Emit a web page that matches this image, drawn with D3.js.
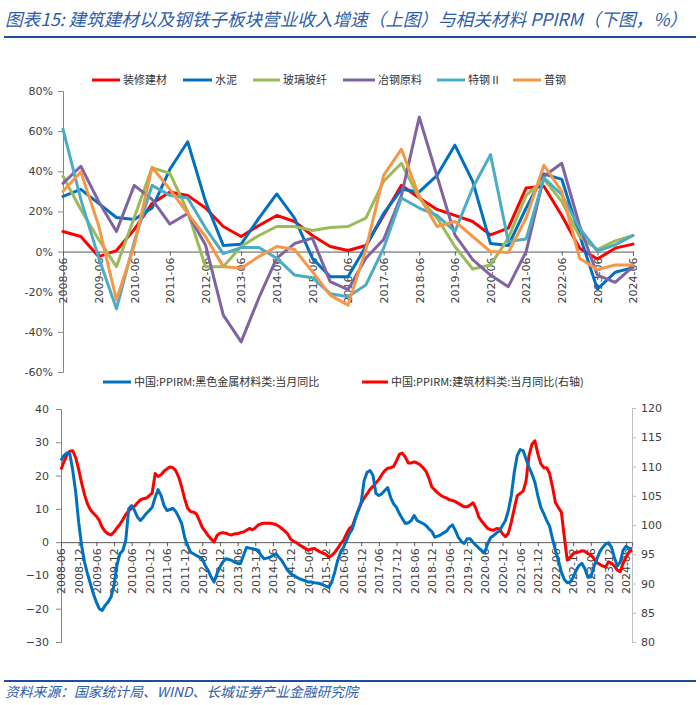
<!DOCTYPE html>
<html><head><meta charset="utf-8">
<script src="https://cdn.jsdelivr.net/npm/d3@7"></script>
<style>body{margin:0;background:#fff}svg{display:block}</style>
</head><body><svg id="c" width="700" height="705"></svg>
<script>
// ---------- DATA: top chart (semi-annual revenue growth, %) ----------
const topCats = ["2008-06","2008-12","2009-06","2009-12","2010-06","2010-12","2011-06","2011-12","2012-06","2012-12","2013-06","2013-12","2014-06","2014-12","2015-06","2015-12","2016-06","2016-12","2017-06","2017-12","2018-06","2018-12","2019-06","2019-12","2020-06","2020-12","2021-06","2021-12","2022-06","2022-12","2023-06","2023-12","2024-06"];
const topTickLabels = ["2008-06","2009-06","2010-06","2011-06","2012-06","2013-06","2014-06","2015-06","2016-06","2017-06","2018-06","2019-06","2020-06","2021-06","2022-06","2023-06","2024-06"];
const topYTicks = [-60,-40,-20,0,20,40,60,80];
const seriesNames = ["装修建材","水泥","玻璃玻纤","冶钢原料","特钢Ⅱ","普钢"];
const zhuangxiu = [10,7.5,-2.5,0.5,11,24,29.7,28,21.7,12.5,7.5,13,18,15,8,2.5,0.5,3,18,33,26.7,21,18,15,8.3,11.7,31.7,32.5,18,1.7,-3.7,1.7,3.7];
const shuini    = [27.5,31,24,17,16,21.7,41,54.7,25,3,3.7,16.7,28.7,16.7,-3.3,-12.5,-12.5,2.5,19,31,29.7,38,53,35,4,3,21.7,38.7,36,8.3,-18.7,-10.3,-8];
const boli      = [37.5,21,6,-7.5,17,41.7,39,20,-7.5,-7.5,2.5,8,12.5,12.5,10.5,12,12.5,16.7,35,44,26.7,16.7,2.5,-8.7,-6.7,6.7,28,36,25,7.5,1,5.3,8];
const yegang    = [34,42.5,25,10,33,26,13.7,19,3.3,-31.7,-45,-23,-3.3,4,6.7,-15,-19,-3.3,6,28,67,37.5,8.3,-4,-11.7,-17.5,0,37.5,44,13,-11.7,-15.3,-7.5];
const tegang    = [61,26,-3,-28.5,5,33,28,26.7,11.7,-1,2,2,-3.3,-11.7,-13,-21,-22.5,-16.7,1.7,26.7,21.7,18,10,31.7,48.3,5,6.3,36.7,28.3,11.7,0.3,3.3,8];
const pugang    = [30,39.7,13,-24,3,42,31,19,7.5,-7.5,-8.3,-2.5,2.5,1,-10,-21.7,-26.7,1,38,51,27.5,12.5,15,7.5,0,-0.5,16.7,43,30,-3.3,-9,-6.7,-6.7];
const topColors = ["#FF0000","#0070C0","#9BBB59","#8064A2","#4BACC6","#F79646"];

// ---------- DATA: bottom chart (monthly PPIRM yoy, 2008-06 .. 2024-08) ----------
const botTickLabels = ["2008-06","2008-12","2009-06","2009-12","2010-06","2010-12","2011-06","2011-12","2012-06","2012-12","2013-06","2013-12","2014-06","2014-12","2015-06","2015-12","2016-06","2016-12","2017-06","2017-12","2018-06","2018-12","2019-06","2019-12","2020-06","2020-12","2021-06","2021-12","2022-06","2022-12","2023-06","2023-12","2024-06"];
const leftTicks = [-30,-20,-10,0,10,20,30,40];
const rightTicks = [80,85,90,95,100,105,110,115,120];
const botNames = ["中国:PPIRM:黑色金属材料类:当月同比","中国:PPIRM:建筑材料类:当月同比(右轴)"];
const ferrous = [
 24.5,26,26.8,26.5,21.5,15,6,-1,-6,-9.5,
 -12.5,-15.5,-18,-20,-20.5,-19,-18,-16.5,-13,-7,
 -3.5,-2.5,0.5,10,11,9.5,7.5,6.5,7.5,8.6,
 9.5,10.5,13.5,15.8,14,11,9.5,9.8,10.2,9.2,
 7.5,5.6,1.5,-1,-3,-3.5,-4,-4.5,-5,-7,
 -8.5,-10.5,-12,-9.5,-7.5,-6,-5,-5.2,-5.5,-6,
 -6.4,-6.4,-4,-1.6,-1.8,-2,-2.2,-2.4,-4,-5,
 -4.8,-4.5,-4,-3.5,-4.5,-5.5,-7,-8.5,-9.4,-10,
 -10.5,-11,-11.3,-11.6,-12,-12,-12.2,-12.3,-12.5,-12.8,
 -13.2,-13.6,-12,-9,-5.5,-3,-1.6,0.5,2.6,4,
 7,9.5,12,18.5,21,21.5,20,14.6,14,14.5,
 15.5,16.4,13.4,11.5,10.4,8.5,7,5.6,5.8,6.5,
 8,6.5,6,5.6,5,4,3.2,1.5,1.8,2.2,
 2.8,3.3,4.5,5.2,3.5,1.4,0.2,-0.4,1,1,
 0,-1,-1.8,-2.6,-3,-0.4,1.4,2,2.8,3.5,
 5,6.5,9.5,14,21,26,27.8,27.5,25,22.5,
 20.5,18,14,10.5,8.6,6.5,4.8,1,-2.5,-5.5,
 -9,-11.2,-12.2,-12,-10.6,-8.5,-7,-6.4,-8,-10.5,
 -10.5,-7.5,-5.2,-3,-1.6,-0.6,-0.2,-1.5,-4.5,-7.2,
 -6,-2.4,-1.2,-1.8,-2];
const building = [
 109.5,110.8,112,112.6,112.7,111.5,109.5,107.2,105.2,103.6,
 102.6,102,101.5,100.8,99.6,98.9,98.5,98.3,98.8,99.5,
 100.1,100.9,101.8,102.4,102.9,103.2,103.8,104.3,104.5,104.6,
 105,105.5,108.8,108.3,108.6,109.2,109.6,109.9,109.8,109.3,
 108.2,106.5,104.5,102.9,102.3,102.2,101.9,100.8,99.6,98.9,
 98.2,97.6,97.1,98.2,98.6,98.7,98.6,98.4,98.3,98.5,
 98.5,98.7,98.8,99.1,99.4,99.2,99.5,100,100.2,100.3,
 100.3,100.3,100.2,100.1,99.8,99.4,99,98.5,97.6,97.2,
 97,96.6,96.3,96,95.7,95.9,96,95.7,95.4,95.2,
 95,94.5,94.8,95.3,96,96.8,97.4,98.5,99.4,99.8,
 101.2,102.5,103.7,104.6,105.3,106.1,106.6,107.2,107.8,108.6,
 109.3,109.7,109.8,110,111,112.1,112.3,111.6,110.6,110.6,
 110.8,110.6,110.3,109.8,109.2,108,106.5,106,105.5,105.1,
 104.8,104.6,104.3,104.2,104,103.7,103.4,103.1,103.1,103.4,
 103.8,102.8,101.3,100.6,100,99.4,99.2,99.1,99.4,99.3,
 98.5,98,98.6,100.5,102.8,105,105.4,105.8,107.5,111.8,
 113.8,114.4,112.2,110.5,109.8,109.8,108.8,106.5,103.8,103,
 102.2,98,94,94.5,95.1,95.3,95.4,95.6,95.5,95.1,
 94.9,94.3,93.6,93.3,93,92.8,93.7,93.5,93,92.3,
 92,93.5,94.5,95.4,95.7];
const botColors = ["#0070C0","#FF0000"];

// month categories for bottom chart
const months = [];
for (let k = 0; k < ferrous.length; k++) {
  const m = 5 + k; const yy = 2008 + Math.floor(m / 12); const mm = (m % 12) + 1;
  months.push(yy + "-" + String(mm).padStart(2, "0"));
}

// ---------- DRAW ----------
const svg = d3.select("#c");
const FONT = "'DejaVu Sans', Verdana, sans-serif";
const CJK = "'Noto Sans CJK SC', sans-serif";
const titleBlue = "#2E5DA8";

// title
svg.append("text").attr("x", 5).attr("y", 26)
  .attr("font-family", CJK).attr("font-size", 17.6).attr("font-style", "italic")
  .attr("fill", titleBlue)
  .text("图表15: 建筑建材以及钢铁子板块营业收入增速（上图）与相关材料 PPIRM（下图，%）");
svg.append("line").attr("x1", 4).attr("x2", 696).attr("y1", 37).attr("y2", 37)
  .attr("stroke", "#1F4E9A").attr("stroke-width", 2);

// footer
svg.append("line").attr("x1", 4).attr("x2", 696).attr("y1", 681).attr("y2", 681)
  .attr("stroke", "#1F4E9A").attr("stroke-width", 2);
svg.append("text").attr("x", 5).attr("y", 697)
  .attr("font-family", CJK).attr("font-size", 13.8).attr("font-style", "italic")
  .attr("fill", titleBlue)
  .text("资料来源：国家统计局、WIND、长城证券产业金融研究院");

// ===== TOP CHART =====
const xT = d3.scalePoint().domain(topCats).range([63, 633]);
const yT = d3.scaleLinear().domain([-60, 80]).range([372, 91]);

const gyT = svg.append("g").attr("transform", "translate(63,0)")
  .call(d3.axisLeft(yT).tickValues(topYTicks).tickFormat(d => d + "%").tickSize(5).tickPadding(5));
gyT.select(".domain").attr("stroke", "#868686");
gyT.selectAll(".tick line").attr("stroke", "#868686");
gyT.selectAll("text").attr("font-family", FONT).attr("font-size", 11).attr("fill", "#404040");

const gxT = svg.append("g").attr("transform", `translate(0,${yT(0)})`)
  .call(d3.axisBottom(xT).tickValues(topTickLabels).tickSize(4));
gxT.select(".domain").attr("stroke", "#595959");
gxT.selectAll(".tick line").attr("stroke", "#595959");
gxT.selectAll("text").attr("transform", "rotate(-90)").attr("x", -6).attr("y", 0)
  .attr("dy", "0.35em").style("text-anchor", "end")
  .attr("font-family", FONT).attr("font-size", 11).attr("fill", "#404040");

const topSeries = [zhuangxiu, shuini, boli, yegang, tegang, pugang];
const lineT = d3.line().x((d, i) => xT(topCats[i])).y(d => yT(d));
topSeries.forEach((s, k) => {
  svg.append("path").datum(s).attr("d", lineT).attr("fill", "none")
    .attr("stroke", topColors[k]).attr("stroke-width", 3)
    .attr("stroke-linejoin", "round").attr("stroke-linecap", "round");
});

// top legend
const legT = [[92,120,123],[183,212,215],[253,280,283],[343,375,378],[437,465,468],[513,541,544]];
seriesNames.forEach((n, k) => {
  const [a, b, t] = legT[k];
  svg.append("line").attr("x1", a).attr("x2", b).attr("y1", 80).attr("y2", 80)
    .attr("stroke", topColors[k]).attr("stroke-width", 3);
  svg.append("text").attr("x", t).attr("y", 84).attr("font-family", CJK)
    .attr("font-size", 11).attr("fill", "#333").text(n);
});

// ===== BOTTOM CHART =====
const xB = d3.scalePoint().domain(months).range([61, 632]);
const yL = d3.scaleLinear().domain([-30, 40]).range([642, 409]);
const yR = d3.scaleLinear().domain([80, 120]).range([642, 408]);

const gyL = svg.append("g").attr("transform", "translate(61,0)")
  .call(d3.axisLeft(yL).tickValues(leftTicks).tickSize(5).tickPadding(7));
gyL.select(".domain").attr("stroke", "#868686");
gyL.selectAll(".tick line").attr("stroke", "#868686");
gyL.selectAll("text").attr("font-family", FONT).attr("font-size", 11).attr("fill", "#404040");

const gyR = svg.append("g").attr("transform", "translate(632,0)")
  .call(d3.axisRight(yR).tickValues(rightTicks).tickSize(4).tickPadding(5));
gyR.select(".domain").attr("stroke", "#BFBFBF");
gyR.selectAll(".tick line").attr("stroke", "#BFBFBF");
gyR.selectAll("text").attr("font-family", FONT).attr("font-size", 11).attr("fill", "#404040");

const gxB = svg.append("g").attr("transform", `translate(0,${yL(0)})`)
  .call(d3.axisBottom(xB).tickValues(botTickLabels).tickSize(4));
gxB.select(".domain").attr("stroke", "#595959");
gxB.selectAll(".tick line").attr("stroke", "#595959");
gxB.selectAll("text").attr("transform", "rotate(-90)").attr("x", -6).attr("y", 0)
  .attr("dy", "0.35em").style("text-anchor", "end")
  .attr("font-family", FONT).attr("font-size", 11).attr("fill", "#404040");

const lineL = d3.line().x((d, i) => xB(months[i])).y(d => yL(d));
const lineR = d3.line().x((d, i) => xB(months[i])).y(d => yR(d));
svg.append("path").datum(building).attr("d", lineR).attr("fill", "none")
  .attr("stroke", botColors[1]).attr("stroke-width", 3).attr("stroke-linejoin", "round");
svg.append("path").datum(ferrous).attr("d", lineL).attr("fill", "none")
  .attr("stroke", botColors[0]).attr("stroke-width", 3).attr("stroke-linejoin", "round");

// bottom legend
const legB = [[103,131,134],[362,388,391]];
botNames.forEach((n, k) => {
  const [a, b, t] = legB[k];
  svg.append("line").attr("x1", a).attr("x2", b).attr("y1", 382).attr("y2", 382)
    .attr("stroke", botColors[k]).attr("stroke-width", 3);
  svg.append("text").attr("x", t).attr("y", 386).attr("font-family", CJK)
    .attr("font-size", 11).attr("fill", "#333").text(n);
});
</script></body></html>
